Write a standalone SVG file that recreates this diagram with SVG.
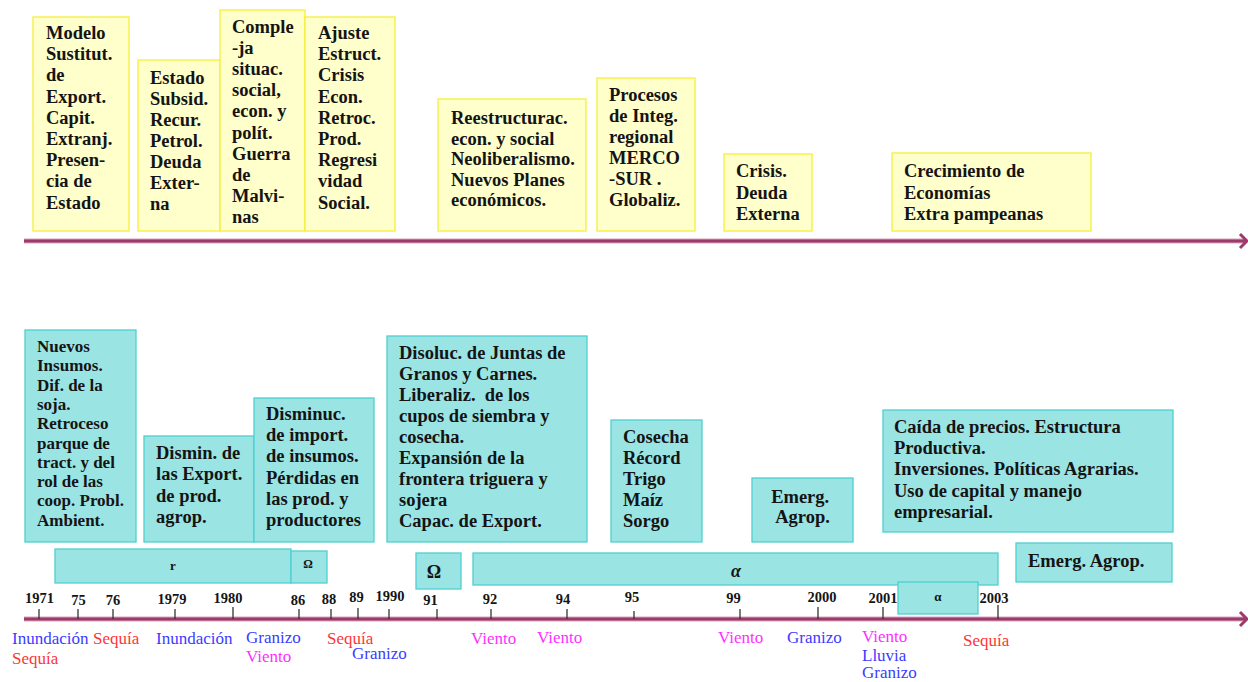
<svg xmlns="http://www.w3.org/2000/svg" width="1248" height="682" viewBox="0 0 1248 682">
  <style>
    .ybox { fill: #ffffcc; stroke: #f5ef3a; stroke-width: 1.3; }
    .cbox { fill: #9be4e4; stroke: #4fcfcf; stroke-width: 1.3; }
    .t { font-family: "Liberation Serif", "Times New Roman", serif; font-weight: bold; font-size: 18.5px; fill: #141414; }
    .ts { font-size: 17px; }
    .sym-s { font-size: 13px; text-anchor: middle; }
    .sym-l { font-size: 18px; text-anchor: middle; }
    .yr { font-family: "Liberation Serif", "Times New Roman", serif; font-weight: bold; font-size: 14.5px; fill: #141414; text-anchor: middle; }
    .ev { font-family: "Liberation Serif", "Times New Roman", serif; font-size: 17px; }
    .blue { fill: #3b3bff; }
    .red { fill: #ff3535; }
    .mag { fill: #ff30ff; }
    .axis-glow { stroke: #dba3bf; stroke-width: 5; fill: none; }
    .axis { stroke: #9c3a6a; stroke-width: 3; fill: none; }
    .tick { stroke: #333; stroke-width: 1.3; }
  </style>

  <!-- timeline axes -->
  <g id="connectors">
    <line class="axis-glow" x1="24" y1="241" x2="1245" y2="241"/>
    <line class="axis" x1="24" y1="241" x2="1246" y2="241"/>
    <polyline class="axis" points="1240,234 1247,241 1240,248" stroke-width="2"/>
    <line class="axis-glow" x1="24" y1="619" x2="1245" y2="619"/>
    <line class="axis" x1="24" y1="619" x2="1246" y2="619"/>
    <polyline class="axis" points="1240,612 1247,619 1240,626" stroke-width="2"/>
    <g id="ticks">
      <line class="tick" x1="39" y1="609" x2="39" y2="619"/>
      <line class="tick" x1="78" y1="609" x2="78" y2="619"/>
      <line class="tick" x1="113" y1="609" x2="113" y2="619"/>
      <line class="tick" x1="175" y1="609" x2="175" y2="619"/>
      <line class="tick" x1="233" y1="607" x2="233" y2="619"/>
      <line class="tick" x1="299" y1="609" x2="299" y2="619"/>
      <line class="tick" x1="331" y1="609" x2="331" y2="619"/>
      <line class="tick" x1="358" y1="608" x2="358" y2="619"/>
      <line class="tick" x1="389" y1="609" x2="389" y2="619"/>
      <line class="tick" x1="437" y1="609" x2="437" y2="619"/>
      <line class="tick" x1="491" y1="609" x2="491" y2="619"/>
      <line class="tick" x1="567" y1="609" x2="567" y2="619"/>
      <line class="tick" x1="634" y1="611" x2="634" y2="619"/>
      <line class="tick" x1="740" y1="609" x2="740" y2="619"/>
      <line class="tick" x1="818" y1="607" x2="818" y2="619"/>
      <line class="tick" x1="883" y1="607" x2="883" y2="619"/>
      <line class="tick" x1="998" y1="605" x2="998" y2="619"/>
    </g>
  </g>

  <!-- upper band: socio-economic context -->
  <g id="ctx-modelo">
    <rect class="ybox" x="33" y="17" width="96" height="214"/>
    <text class="t" x="46" y="39">
      <tspan x="46">Modelo</tspan>
      <tspan x="46" dy="21.2">Sustitut.</tspan>
      <tspan x="46" dy="21.2">de</tspan>
      <tspan x="46" dy="21.2">Export.</tspan>
      <tspan x="46" dy="21.2">Capit.</tspan>
      <tspan x="46" dy="21.2">Extranj.</tspan>
      <tspan x="46" dy="21.2">Presen-</tspan>
      <tspan x="46" dy="21.2">cia de</tspan>
      <tspan x="46" dy="21.2">Estado</tspan>
    </text>
  </g>
  <g id="ctx-estado">
    <rect class="ybox" x="138" y="60" width="82" height="171"/>
    <text class="t" x="150" y="84">
      <tspan x="150">Estado</tspan>
      <tspan x="150" dy="21">Subsid.</tspan>
      <tspan x="150" dy="21">Recur.</tspan>
      <tspan x="150" dy="21">Petrol.</tspan>
      <tspan x="150" dy="21">Deuda</tspan>
      <tspan x="150" dy="21">Exter-</tspan>
      <tspan x="150" dy="21">na</tspan>
    </text>
  </g>
  <g id="ctx-compleja">
    <rect class="ybox" x="220" y="10" width="85" height="221"/>
    <text class="t" x="232" y="33">
      <tspan x="232">Comple</tspan>
      <tspan x="232" dy="21.1">-ja</tspan>
      <tspan x="232" dy="21.1">situac.</tspan>
      <tspan x="232" dy="21.1">social,</tspan>
      <tspan x="232" dy="21.1">econ. y</tspan>
      <tspan x="232" dy="21.1">polít.</tspan>
      <tspan x="232" dy="21.1">Guerra</tspan>
      <tspan x="232" dy="21.1">de</tspan>
      <tspan x="232" dy="21.1">Malvi-</tspan>
      <tspan x="232" dy="21.1">nas</tspan>
    </text>
  </g>
  <g id="ctx-ajuste">
    <rect class="ybox" x="305" y="17" width="90" height="214"/>
    <text class="t" x="318" y="39">
      <tspan x="318">Ajuste</tspan>
      <tspan x="318" dy="21.2">Estruct.</tspan>
      <tspan x="318" dy="21.2">Crisis</tspan>
      <tspan x="318" dy="21.2">Econ.</tspan>
      <tspan x="318" dy="21.2">Retroc.</tspan>
      <tspan x="318" dy="21.2">Prod.</tspan>
      <tspan x="318" dy="21.2">Regresi</tspan>
      <tspan x="318" dy="21.2">vidad</tspan>
      <tspan x="318" dy="21.2">Social.</tspan>
    </text>
  </g>
  <g id="ctx-reestructuracion">
    <rect class="ybox" x="438" y="99" width="148" height="132"/>
    <text class="t" x="451" y="124">
      <tspan x="451">Reestructurac.</tspan>
      <tspan x="451" dy="20.5">econ. y social</tspan>
      <tspan x="451" dy="20.5">Neoliberalismo.</tspan>
      <tspan x="451" dy="20.5">Nuevos Planes</tspan>
      <tspan x="451" dy="20.5">económicos.</tspan>
    </text>
  </g>
  <g id="ctx-mercosur">
    <rect class="ybox" x="597" y="78" width="98" height="153"/>
    <text class="t" x="609" y="101">
      <tspan x="609">Procesos</tspan>
      <tspan x="609" dy="21">de Integ.</tspan>
      <tspan x="609" dy="21">regional</tspan>
      <tspan x="609" dy="21">MERCO</tspan>
      <tspan x="609" dy="21">-SUR .</tspan>
      <tspan x="609" dy="21">Globaliz.</tspan>
    </text>
  </g>
  <g id="ctx-crisis">
    <rect class="ybox" x="724" y="154" width="88" height="77"/>
    <text class="t" x="736" y="177">
      <tspan x="736">Crisis.</tspan>
      <tspan x="736" dy="21.5">Deuda</tspan>
      <tspan x="736" dy="21.5">Externa</tspan>
    </text>
  </g>
  <g id="ctx-crecimiento">
    <rect class="ybox" x="892" y="153" width="199" height="78"/>
    <text class="t" x="904" y="177">
      <tspan x="904">Crecimiento de</tspan>
      <tspan x="904" dy="21.5">Economías</tspan>
      <tspan x="904" dy="21.5">Extra pampeanas</tspan>
    </text>
  </g>

  <!-- lower band: agricultural sector -->
  <g id="agro-insumos">
    <rect class="cbox" x="25" y="330" width="111" height="212"/>
    <text class="t ts" x="37" y="352">
      <tspan x="37">Nuevos</tspan>
      <tspan x="37" dy="19.3">Insumos.</tspan>
      <tspan x="37" dy="19.3">Dif. de la</tspan>
      <tspan x="37" dy="19.3">soja.</tspan>
      <tspan x="37" dy="19.3">Retroceso</tspan>
      <tspan x="37" dy="19.3">parque de</tspan>
      <tspan x="37" dy="19.3">tract. y del</tspan>
      <tspan x="37" dy="19.3">rol de las</tspan>
      <tspan x="37" dy="19.3">coop. Probl.</tspan>
      <tspan x="37" dy="19.3">Ambient.</tspan>
    </text>
  </g>
  <g id="agro-dismin-export">
    <rect class="cbox" x="144" y="436" width="110" height="106"/>
    <text class="t" x="156" y="459">
      <tspan x="156">Dismin. de</tspan>
      <tspan x="156" dy="21.3">las Export.</tspan>
      <tspan x="156" dy="21.3">de prod.</tspan>
      <tspan x="156" dy="21.3">agrop.</tspan>
    </text>
  </g>
  <g id="agro-dismin-import">
    <rect class="cbox" x="254" y="398" width="120" height="144"/>
    <text class="t" x="266" y="420">
      <tspan x="266">Disminuc.</tspan>
      <tspan x="266" dy="21.2">de import.</tspan>
      <tspan x="266" dy="21.2">de insumos.</tspan>
      <tspan x="266" dy="21.2">Pérdidas en</tspan>
      <tspan x="266" dy="21.2">las prod. y</tspan>
      <tspan x="266" dy="21.2">productores</tspan>
    </text>
  </g>
  <g id="agro-disoluc">
    <rect class="cbox" x="387" y="336" width="200" height="206"/>
    <text class="t" x="399" y="359">
      <tspan x="399">Disoluc. de Juntas de</tspan>
      <tspan x="399" dy="21">Granos y Carnes.</tspan>
      <tspan x="399" dy="21" xml:space="preserve">Liberaliz.  de los</tspan>
      <tspan x="399" dy="21">cupos de siembra y</tspan>
      <tspan x="399" dy="21">cosecha.</tspan>
      <tspan x="399" dy="21">Expansión de la</tspan>
      <tspan x="399" dy="21">frontera triguera y</tspan>
      <tspan x="399" dy="21">sojera</tspan>
      <tspan x="399" dy="21">Capac. de Export.</tspan>
    </text>
  </g>
  <g id="agro-cosecha">
    <rect class="cbox" x="611" y="420" width="91" height="122"/>
    <text class="t" x="623" y="443">
      <tspan x="623">Cosecha</tspan>
      <tspan x="623" dy="21">Récord</tspan>
      <tspan x="623" dy="21">Trigo</tspan>
      <tspan x="623" dy="21">Maíz</tspan>
      <tspan x="623" dy="21">Sorgo</tspan>
    </text>
  </g>
  <g id="agro-emerg-1">
    <rect class="cbox" x="752" y="478" width="101" height="64"/>
    <text class="t" x="802.5" y="503" text-anchor="middle">
      <tspan x="802.5">Emerg.</tspan>
      <tspan x="802.5" dy="20">Agrop.</tspan>
    </text>
  </g>
  <g id="agro-precios">
    <rect class="cbox" x="883" y="410" width="290" height="122"/>
    <text class="t" x="894" y="433">
      <tspan x="894">Caída de precios. Estructura</tspan>
      <tspan x="894" dy="21.2">Productiva.</tspan>
      <tspan x="894" dy="21.2">Inversiones. Políticas Agrarias.</tspan>
      <tspan x="894" dy="21.2">Uso de capital y manejo</tspan>
      <tspan x="894" dy="21.2">empresarial.</tspan>
    </text>
  </g>
  <g id="agro-emerg-2">
    <rect class="cbox" x="1016" y="543" width="156" height="39"/>
    <text class="t" x="1028" y="567">Emerg. Agrop.</text>
  </g>

  <!-- period bars -->
  <g id="bar-r">
    <rect class="cbox" x="55" y="549" width="236" height="34"/>
    <text class="t sym-s" x="173" y="570">r</text>
  </g>
  <g id="bar-omega-small">
    <rect class="cbox" x="291" y="551" width="36" height="32"/>
    <text class="t sym-s" x="308" y="568" style="font-size:12px">Ω</text>
  </g>
  <g id="bar-omega">
    <rect class="cbox" x="416" y="553" width="45" height="36"/>
    <text class="t sym-l" x="434" y="578">Ω</text>
  </g>
  <g id="bar-alpha">
    <rect class="cbox" x="473" y="553" width="525" height="32"/>
    <text class="t sym-l" x="736" y="577" font-style="italic">α</text>
  </g>
  <g id="bar-alpha-small">
    <rect class="cbox" x="898" y="582" width="80" height="32"/>
    <text class="t sym-s" x="938" y="601">α</text>
  </g>

  <!-- years -->
  <g id="years">
    <text class="yr" x="39.5" y="603">1971</text>
    <text class="yr" x="78.5" y="605">75</text>
    <text class="yr" x="113" y="605">76</text>
    <text class="yr" x="172" y="604">1979</text>
    <text class="yr" x="228" y="603">1980</text>
    <text class="yr" x="298" y="605">86</text>
    <text class="yr" x="329" y="604">88</text>
    <text class="yr" x="356.5" y="602">89</text>
    <text class="yr" x="390" y="601">1990</text>
    <text class="yr" x="430.5" y="605">91</text>
    <text class="yr" x="490" y="604">92</text>
    <text class="yr" x="563" y="604">94</text>
    <text class="yr" x="632" y="602">95</text>
    <text class="yr" x="733.5" y="603">99</text>
    <text class="yr" x="822" y="602">2000</text>
    <text class="yr" x="883" y="603">2001</text>
    <text class="yr" x="994" y="603">2003</text>
  </g>

  <!-- climate events -->
  <g id="events" class="ev">
    <text class="ev blue" x="12" y="644">Inundación</text>
    <text class="ev red" x="12" y="664">Sequía</text>
    <text class="ev red" x="93" y="644">Sequía</text>
    <text class="ev blue" x="156" y="644">Inundación</text>
    <text class="ev blue" x="246" y="643">Granizo</text>
    <text class="ev mag" x="246" y="662">Viento</text>
    <text class="ev red" x="327" y="644">Sequía</text>
    <text class="ev blue" x="352" y="659">Granizo</text>
    <text class="ev mag" x="471" y="644">Viento</text>
    <text class="ev mag" x="537" y="643">Viento</text>
    <text class="ev mag" x="718" y="643">Viento</text>
    <text class="ev blue" x="787" y="643">Granizo</text>
    <text class="ev mag" x="862" y="642">Viento</text>
    <text class="ev blue" x="862" y="661">Lluvia</text>
    <text class="ev blue" x="862" y="678">Granizo</text>
    <text class="ev red" x="963" y="646">Sequía</text>
  </g>
</svg>
